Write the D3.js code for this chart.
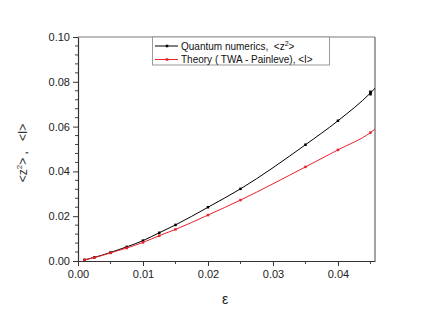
<!DOCTYPE html>
<html><head><meta charset="utf-8">
<script src="https://cdn.jsdelivr.net/npm/d3@7"></script>
<style>body{margin:0;background:#fff}svg{display:block}text{font-family:"Liberation Sans",Arial,sans-serif}</style>
</head><body><svg id="c" width="436" height="314"></svg>
<script>
const eps      = [0.001, 0.0025, 0.005, 0.0075, 0.01, 0.0125, 0.015, 0.02, 0.025, 0.035, 0.04, 0.045];
const quantum  = [0.0005, 0.0016, 0.0038, 0.0063, 0.0091, 0.0126, 0.0161, 0.0240, 0.0322, 0.0519, 0.0626, 0.0750];
const theory   = [0.0005, 0.0015, 0.0036, 0.0058, 0.0083, 0.0113, 0.0141, 0.0205, 0.0272, 0.0420, 0.0496, 0.0573];
const quantumErr = [0, 0, 0, 0, 0, 0, 0, 0, 0, 0, 0, 0.0011];
// curve continuation to the frame edge (line only, no marker)
const tailEps = 0.0460, tailQuantum = 0.0780, tailTheory = 0.0595;
const xTicks = [0.00, 0.01, 0.02, 0.03, 0.04];
const yTicks = [0.00, 0.02, 0.04, 0.06, 0.08, 0.10];
const legendLabels = ["Quantum numerics,\u00a0\u00a0<z²>", "Theory ( TWA - Painleve), <I>"];
const colors = ["#000000", "#e8212b"];

const L = 78, R = 375, T = 37, B = 261;
const x = d3.scaleLinear().domain([0, 0.0457]).range([L, R]);
const y = d3.scaleLinear().domain([0, 0.10]).range([B, T]);
const svg = d3.select("#c");

// frame
svg.append("line").attr("x1", L).attr("x2", R).attr("y1", T).attr("y2", T).attr("stroke", "#7a7a7a").attr("stroke-width", 1.2);
svg.append("line").attr("x1", R).attr("x2", R).attr("y1", T).attr("y2", B).attr("stroke", "#666").attr("stroke-width", 1.2);

// minor ticks
const yMinor = d3.range(0, 0.1001, 0.004).filter(v => Math.abs(v / 0.02 - Math.round(v / 0.02)) > 1e-6);
svg.append("g").attr("transform", `translate(${L},0)`).selectAll("line").data(yMinor).join("line")
  .attr("x1", -3).attr("x2", 0).attr("y1", d => y(d)).attr("y2", d => y(d)).attr("stroke", "#444");
const xMinor = [0.005, 0.015, 0.025, 0.035, 0.045];
svg.append("g").attr("transform", `translate(0,${B})`).selectAll("line").data(xMinor).join("line")
  .attr("x1", d => x(d)).attr("x2", d => x(d)).attr("y1", 0).attr("y2", 3).attr("stroke", "#444");

const xa = svg.append("g").attr("transform", `translate(0,${B})`)
  .call(d3.axisBottom(x).tickValues(xTicks).tickFormat(d3.format(".2f")).tickSize(5).tickPadding(4).tickSizeOuter(0));
const ya = svg.append("g").attr("transform", `translate(${L},0)`)
  .call(d3.axisLeft(y).tickValues(yTicks).tickFormat(d3.format(".2f")).tickSize(5).tickPadding(3).tickSizeOuter(0));
[xa, ya].forEach(a => {
  a.select(".domain").attr("stroke", "#333").attr("stroke-width", 1.2);
  a.selectAll(".tick line").attr("stroke", "#333");
  a.selectAll("text").attr("font-size", 11).attr("fill", "#222").attr("font-family", '"Liberation Sans",Arial,sans-serif');
});

// lines
const series = [
  {vals: quantum, tail: tailQuantum, color: colors[0]},
  {vals: theory, tail: tailTheory, color: colors[1]}
];
svg.append("clipPath").attr("id", "pc").append("rect").attr("x", L).attr("y", T).attr("width", R - L).attr("height", B - T);
const line = d3.line().x(d => x(d[0])).y(d => y(d[1])).curve(d3.curveMonotoneX);
series.forEach(s => {
  const pts = eps.map((e, i) => [e, s.vals[i]]).concat([[tailEps, s.tail]]);
  svg.append("path").datum(pts).attr("d", line).attr("fill", "none").attr("stroke", s.color).attr("stroke-width", 1).attr("clip-path", "url(#pc)");
  svg.append("g").selectAll("rect").data(eps.map((e, i) => [e, s.vals[i]])).join("rect")
    .attr("x", d => x(d[0]) - 1.25).attr("y", d => y(d[1]) - 1.25).attr("width", 2.5).attr("height", 2.5).attr("fill", s.color);
});
// error bars
svg.append("g").selectAll("line").data(eps.map((e, i) => [e, quantum[i], quantumErr[i]]).filter(d => d[2] > 0)).join("line")
  .attr("x1", d => x(d[0])).attr("x2", d => x(d[0])).attr("y1", d => y(d[1] - d[2])).attr("y2", d => y(d[1] + d[2]))
  .attr("stroke", "#000").attr("stroke-width", 2.5);

// legend
const lg = svg.append("g");
lg.append("rect").attr("x", 152.5).attr("y", 37).attr("width", 177).attr("height", 28).attr("fill", "#fff").attr("stroke", "#999").attr("stroke-width", 1);
legendLabels.forEach((t, i) => {
  const yy = 46 + i * 13.5;
  lg.append("line").attr("x1", 155).attr("x2", 178).attr("y1", yy).attr("y2", yy).attr("stroke", colors[i]).attr("stroke-width", 1);
  lg.append("rect").attr("x", 165.75).attr("y", yy - 1.25).attr("width", 2.5).attr("height", 2.5).attr("fill", colors[i]);
  const tx = lg.append("text").attr("x", 181).attr("y", yy + 3.5).attr("font-size", 10).attr("fill", "#111");
  if (i === 0) {
    tx.text("Quantum numerics,\u00a0\u00a0<z");
    tx.append("tspan").attr("dy", -4).attr("font-size", 7).text("2");
    tx.append("tspan").attr("dy", 4).text(">");
  } else tx.text(t);
});

// axis titles
const yt = svg.append("text").attr("transform", "translate(27,153) rotate(-90)").attr("text-anchor", "middle").attr("font-size", 12).attr("fill", "#333");
yt.append("tspan").text("<z");
yt.append("tspan").attr("dy", -5).attr("font-size", 8).text("2");
yt.append("tspan").attr("dy", 5).text(">\u00a0,\u00a0\u00a0\u00a0<I>");
svg.append("text").attr("x", 225).attr("y", 304).attr("text-anchor", "middle").attr("font-size", 14).attr("fill", "#222").text("ε");
</script></body></html>
